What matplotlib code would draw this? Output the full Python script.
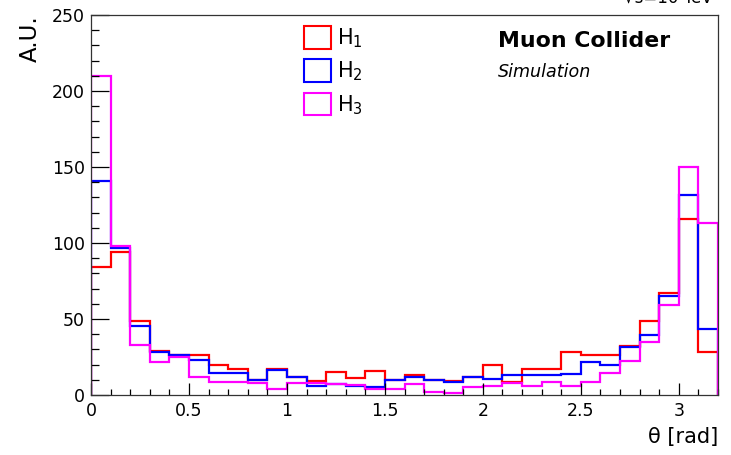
import numpy as np
import matplotlib
matplotlib.use("Agg")
import matplotlib.pyplot as plt
from matplotlib.patches import Patch
from matplotlib.ticker import MultipleLocator

plt.rcParams['font.family'] = ['DejaVu Sans']
plt.rcParams['mathtext.fontset'] = 'dejavusans'

# theta bins, 0.1 rad wide
edges = np.round(np.arange(0, 3.21, 0.1), 2)

h1 = [84, 94, 49, 29, 26.5, 26.5, 19.5, 17, 10, 17,
      12, 9, 15, 11, 16, 10, 13, 10, 9.5, 12,
      19.5, 8.3, 17, 17, 28, 26.3, 26.3, 32, 49, 67,
      115.6, 28.2]
h2 = [141, 97, 45.4, 28, 26.5, 23, 14.7, 14.7, 10, 16.3,
      12, 6, 7, 6.2, 5, 10, 12, 10, 8.8, 11.8,
      10.2, 12.9, 12.9, 12.9, 13.6, 21.9, 19.5, 31.4, 39.5, 65,
      131.6, 43.2]
h3 = [210, 98.2, 32.7, 21.7, 25.2, 12, 8.5, 8.5, 7.7, 3.7,
      7.7, 8.1, 7, 6.5, 3.7, 3.7, 7, 2, 1.5, 5,
      5.9, 7.7, 5.9, 8.8, 5.9, 8.8, 14.7, 22.6, 35, 59.2,
      150.2, 113.4]

labels = ["$\\mathregular{H_1}$", "$\\mathregular{H_2}$", "$\\mathregular{H_3}$"]
colors = ["#ff0000", "#0000ff", "#ff00ff"]

W, H = 731, 455
fig = plt.figure(figsize=(W / 100, H / 100), dpi=100)
ax = fig.add_axes([91 / W, 60 / H, 627 / W, 380 / H])

for vals, col in zip([h1, h2, h3], colors):
    ax.stairs(vals, edges, color=col, lw=1.6, baseline=0)

ax.set_xlim(0, 3.2)
ax.set_ylim(0, 250)
ax.xaxis.set_major_locator(MultipleLocator(0.5))
ax.xaxis.set_minor_locator(MultipleLocator(0.1))
ax.yaxis.set_major_locator(MultipleLocator(50))
ax.yaxis.set_minor_locator(MultipleLocator(10))
ax.xaxis.set_major_formatter(matplotlib.ticker.FuncFormatter(lambda v, p: f"{v:g}"))

ax.tick_params(axis='x', which='major', direction='in', length=8.6, width=0.9, pad=5, labelsize=12.5)
ax.tick_params(axis='x', which='minor', direction='in', length=4.3, width=0.9)
ax.tick_params(axis='y', which='major', direction='in', length=13, width=0.9, pad=4.3, labelsize=12.5)
ax.tick_params(axis='y', which='minor', direction='in', length=5.8, width=0.9)
for sp in ax.spines.values():
    sp.set_color("#333333")
    sp.set_linewidth(0.9)

ax.set_xlabel("θ [rad]", loc='right', fontsize=15)
ax.xaxis.set_label_coords(1.0, -0.083)
ax.set_ylabel("A.U.", loc='top', fontsize=16.5)
ax.yaxis.set_label_coords(-0.078, 1.0)

handles = [Patch(facecolor='none', edgecolor=c, lw=1.5) for c in colors]
ax.legend(handles, labels, loc='upper left', bbox_to_anchor=(304 / W, 1 - 26 / H),
          bbox_transform=fig.transFigure, frameon=False, fontsize=15,
          handlelength=1.3, handleheight=1.3, handletextpad=0.3,
          labelspacing=0.45, borderpad=0, borderaxespad=0)

fig.text(498 / W, 1 - 47 / H, "Muon Collider", fontsize=15.8, fontweight='bold', va='baseline')
fig.text(498 / W, 1 - 77 / H, "Simulation", fontsize=12.6, style='italic', va='baseline')
fig.text(713 / W, 1 - 4 / H, "√s=10 TeV", fontsize=12, ha='right', va='baseline')

fig.savefig("out.png", dpi=100)
